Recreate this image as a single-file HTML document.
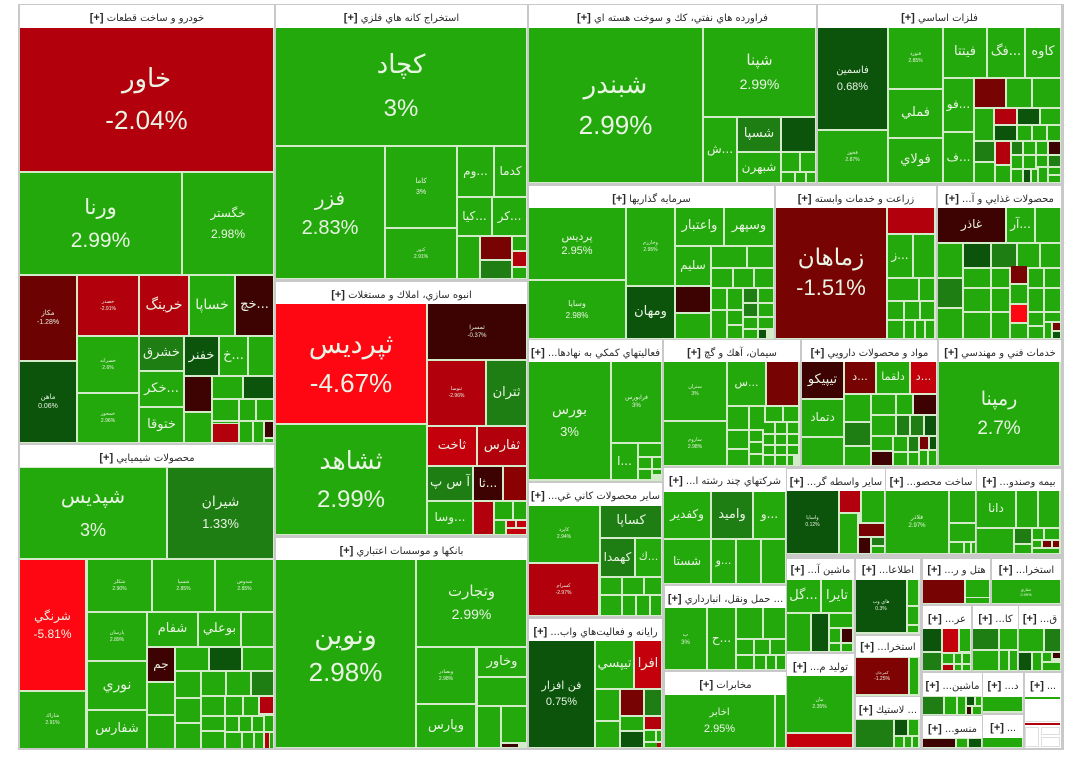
<!DOCTYPE html>
<html><head><meta charset="utf-8">
<style>
html,body{margin:0;padding:0;background:#fff;width:1080px;height:771px;overflow:hidden}
#w{position:absolute;left:18px;top:4px;width:1046px;height:746px;background:#c9c9c9}
.h{position:absolute;background:#fff;color:#2a2a2a;font:10px "DejaVu Sans","Liberation Sans",sans-serif;direction:rtl;text-align:center;white-space:nowrap;overflow:hidden;box-sizing:border-box;padding-top:6px;line-height:14px;letter-spacing:-0.2px}
.h b{font-family:"Liberation Sans",sans-serif;font-size:11px;letter-spacing:0}
.s{position:absolute;background:#d3ebc8}
.c{position:absolute;display:flex;flex-direction:column;align-items:center;justify-content:center;color:#e9f4e4;overflow:hidden;text-align:center;white-space:nowrap;font-family:"DejaVu Sans","Liberation Sans",sans-serif;font-size:13px;line-height:1.3}
.c span{display:block}
.p{font-family:"Liberation Sans",sans-serif}
.g{background:#24a90c}.m{background:#1e7d13}.d{background:#0c540c}.r{background:#b2000c}.b{background:#fe0713}.k{background:#770303}.v{background:#3d0202}.x{background:#c5000d}
.t{font-size:5px;line-height:7px}
</style></head><body>
<div id="w"></div>

<!-- S1 خودرو -->
<div class="h" style="left:20px;top:5px;width:254px;height:23px">خودرو و ساخت قطعات <b>[+]</b></div>
<div class="s" style="left:20px;top:28px;width:254px;height:415px"></div>
<div class="c r" style="left:20px;top:28px;width:253px;height:143px"><span style="font-size:26px;line-height:41px">خاور</span><span class="p" style="font-size:26px;line-height:41px">-2.04%</span></div>
<div class="c g" style="left:20px;top:173px;width:161px;height:101px"><span style="font-size:21px;line-height:33px">ورنا</span><span class="p" style="font-size:21px;line-height:33px">2.99%</span></div>
<div class="c g" style="left:183px;top:173px;width:90px;height:101px"><span style="font-size:12px;line-height:21px">خگستر</span><span class="p" style="font-size:12px;line-height:21px">2.98%</span></div>
<div class="c" style="left:20px;top:276px;width:56px;height:84px;background:#6c0202"><span class="t" style="font-size:7px;line-height:9px">مكاز</span><span class="p" style="font-size:7px;line-height:9px">-1.28%</span></div>
<div class="c d" style="left:20px;top:362px;width:56px;height:80px"><span style="font-size:7px;line-height:9px">ماهن</span><span class="p" style="font-size:7px;line-height:9px">0.06%</span></div>
<div class="c r" style="left:78px;top:276px;width:60px;height:59px"><span class="t">خصدر</span><span class="p t">-2.91%</span></div>
<div class="c g" style="left:78px;top:337px;width:60px;height:55px"><span class="t">خسرانه</span><span class="p t">2.6%</span></div>
<div class="c g" style="left:78px;top:394px;width:60px;height:48px"><span class="t">خمحور</span><span class="p t">2.96%</span></div>
<div class="c r" style="left:140px;top:276px;width:48px;height:59px"><span style="font-size:14px">خرينگ</span></div>
<div class="c g" style="left:190px;top:276px;width:44px;height:59px"><span style="font-size:14px">خساپا</span></div>
<div class="c v" style="left:236px;top:276px;width:37px;height:59px"><span style="font-size:13px">خچ...</span></div>
<div class="c m" style="left:140px;top:337px;width:43px;height:33px"><span style="font-size:13px">خشرق</span></div>
<div class="c g" style="left:140px;top:372px;width:43px;height:34px"><span style="font-size:13px">خكر...</span></div>
<div class="c g" style="left:140px;top:408px;width:43px;height:34px"><span style="font-size:13px">ختوقا</span></div>
<div class="c d" style="left:185px;top:337px;width:33px;height:38px"><span style="font-size:13px">خفنر</span></div>
<div class="c g" style="left:220px;top:337px;width:27px;height:38px"><span style="font-size:13px">خ...</span></div>
<div class="c g" style="left:249px;top:337px;width:24px;height:38px"></div>
<div class="c v" style="left:185px;top:377px;width:26px;height:34px"></div>
<div class="c g" style="left:185px;top:413px;width:26px;height:29px"></div>
<div class="c g" style="left:213px;top:377px;width:29px;height:21px"></div>
<div class="c d" style="left:244px;top:377px;width:29px;height:21px"></div>
<div class="c g" style="left:213px;top:400px;width:25px;height:20px"></div>
<div class="c g" style="left:240px;top:400px;width:15px;height:20px"></div>
<div class="c g" style="left:257px;top:400px;width:16px;height:20px"></div>
<div class="c r" style="left:213px;top:424px;width:25px;height:18px"></div>
<div class="c g" style="left:213px;top:422px;width:25px;height:1px"></div>
<div class="c g" style="left:240px;top:422px;width:12px;height:20px"></div>
<div class="c g" style="left:254px;top:422px;width:9px;height:20px"></div>
<div class="c v" style="left:265px;top:422px;width:8px;height:15px"></div>
<div class="c g" style="left:265px;top:439px;width:8px;height:3px"></div>

<!-- S2 شیمیایی -->
<div class="h" style="left:20px;top:445px;width:254px;height:22px">محصولات شيميايي <b>[+]</b></div>
<div class="s" style="left:20px;top:467px;width:254px;height:281px"></div>
<div class="c g" style="left:20px;top:468px;width:146px;height:90px"><span style="font-size:20px;line-height:34px">شپديس</span><span class="p" style="font-size:18px;line-height:34px">3%</span></div>
<div class="c m" style="left:168px;top:468px;width:105px;height:90px"><span style="font-size:14px;line-height:21px">شيران</span><span class="p" style="font-size:13px;line-height:21px">1.33%</span></div>
<div class="c b" style="left:20px;top:560px;width:65px;height:130px"><span style="font-size:12px;line-height:18px">شرنگي</span><span class="p" style="font-size:12px;line-height:18px">-5.81%</span></div>
<div class="c g" style="left:20px;top:692px;width:65px;height:56px"><span class="t">شاراك</span><span class="p t">2.91%</span></div>
<div class="c g" style="left:88px;top:560px;width:63px;height:51px"><span class="t">شكلر</span><span class="p t">2.90%</span></div>
<div class="c g" style="left:153px;top:560px;width:61px;height:51px"><span class="t">شسپا</span><span class="p t">2.85%</span></div>
<div class="c g" style="left:216px;top:560px;width:57px;height:51px"><span class="t">شدوص</span><span class="p t">2.85%</span></div>
<div class="c g" style="left:88px;top:613px;width:58px;height:47px"><span class="t">پارسان</span><span class="p t">2.89%</span></div>
<div class="c g" style="left:88px;top:662px;width:58px;height:47px"><span style="font-size:14px">نوري</span></div>
<div class="c g" style="left:88px;top:711px;width:58px;height:37px"><span style="font-size:13px">شفارس</span></div>
<div class="c g" style="left:148px;top:613px;width:49px;height:33px"><span style="font-size:13px">شفام</span></div>
<div class="c g" style="left:199px;top:613px;width:41px;height:33px"><span style="font-size:13px">بوعلي</span></div>
<div class="c g" style="left:242px;top:613px;width:31px;height:33px"></div>
<div class="c v" style="left:148px;top:648px;width:26px;height:33px"><span style="font-size:12px">جم</span></div>
<div class="c g" style="left:148px;top:683px;width:26px;height:31px"></div>
<div class="c g" style="left:148px;top:716px;width:26px;height:32px"></div>
<div class="c g" style="left:176px;top:648px;width:32px;height:22px"></div>
<div class="c d" style="left:210px;top:648px;width:31px;height:22px"></div>
<div class="c g" style="left:243px;top:648px;width:30px;height:22px"></div>
<div class="c g" style="left:176px;top:672px;width:24px;height:25px"></div>
<div class="c g" style="left:202px;top:672px;width:23px;height:23px"></div>
<div class="c g" style="left:227px;top:672px;width:23px;height:23px"></div>
<div class="c m" style="left:252px;top:672px;width:21px;height:23px"></div>
<div class="c g" style="left:176px;top:699px;width:24px;height:23px"></div>
<div class="c g" style="left:176px;top:724px;width:24px;height:24px"></div>
<div class="c g" style="left:202px;top:697px;width:22px;height:18px"></div>
<div class="c g" style="left:226px;top:697px;width:16px;height:18px"></div>
<div class="c g" style="left:244px;top:697px;width:14px;height:18px"></div>
<div class="c r" style="left:260px;top:697px;width:13px;height:16px"></div>
<div class="c g" style="left:202px;top:717px;width:22px;height:13px"></div>
<div class="c g" style="left:202px;top:732px;width:22px;height:16px"></div>
<div class="c g" style="left:226px;top:717px;width:12px;height:14px"></div>
<div class="c g" style="left:240px;top:717px;width:11px;height:14px"></div>
<div class="c g" style="left:253px;top:717px;width:10px;height:14px"></div>
<div class="c g" style="left:265px;top:716px;width:8px;height:15px"></div>
<div class="c g" style="left:226px;top:733px;width:15px;height:15px"></div>
<div class="c g" style="left:243px;top:733px;width:10px;height:15px"></div>
<div class="c g" style="left:255px;top:733px;width:8px;height:15px"></div>
<div class="c r" style="left:265px;top:733px;width:4px;height:15px"></div>
<div class="c g" style="left:270px;top:733px;width:3px;height:15px"></div>

<!-- S3 استخراج کانه -->
<div class="h" style="left:276px;top:5px;width:251px;height:23px">استخراج كانه هاي فلزي <b>[+]</b></div>
<div class="s" style="left:276px;top:28px;width:251px;height:251px"></div>
<div class="c g" style="left:276px;top:28px;width:250px;height:117px"><span style="font-size:26px;line-height:44px">كچاد</span><span class="p" style="font-size:24px;line-height:44px">3%</span></div>
<div class="c g" style="left:276px;top:147px;width:108px;height:131px"><span style="font-size:20px;line-height:30px">فزر</span><span class="p" style="font-size:20px;line-height:30px">2.83%</span></div>
<div class="c g" style="left:386px;top:147px;width:70px;height:80px"><span style="font-size:7px;line-height:12px">كاما</span><span class="p" style="font-size:7px;line-height:12px">3%</span></div>
<div class="c g" style="left:386px;top:229px;width:70px;height:49px"><span class="t">كنور</span><span class="p t">2.91%</span></div>
<div class="c g" style="left:458px;top:147px;width:35px;height:49px"><span style="font-size:12px">وم...</span></div>
<div class="c g" style="left:495px;top:147px;width:31px;height:49px"><span style="font-size:12px">كدما</span></div>
<div class="c g" style="left:458px;top:198px;width:33px;height:37px"><span style="font-size:12px">كيا...</span></div>
<div class="c g" style="left:493px;top:198px;width:33px;height:37px"><span style="font-size:12px">كر...</span></div>
<div class="c g" style="left:458px;top:237px;width:21px;height:41px"></div>
<div class="c k" style="left:481px;top:237px;width:30px;height:22px"></div>
<div class="c m" style="left:481px;top:261px;width:30px;height:17px"></div>
<div class="c g" style="left:513px;top:237px;width:13px;height:13px"></div>
<div class="c r" style="left:513px;top:252px;width:13px;height:14px"></div>
<div class="c g" style="left:513px;top:268px;width:13px;height:10px"></div>

<!-- S4 انبوه سازی -->
<div class="h" style="left:276px;top:282px;width:251px;height:22px">انبوه سازي، املاك و مستغلات <b>[+]</b></div>
<div class="s" style="left:276px;top:304px;width:251px;height:231px"></div>
<div class="c b" style="left:276px;top:304px;width:150px;height:119px"><span style="font-size:27px;line-height:38px">ثپرديس</span><span class="p" style="font-size:26px;line-height:38px">-4.67%</span></div>
<div class="c g" style="left:276px;top:425px;width:150px;height:109px"><span style="font-size:25px;line-height:39px">ثشاهد</span><span class="p" style="font-size:24px;line-height:39px">2.99%</span></div>
<div class="c v" style="left:428px;top:304px;width:98px;height:55px"><span style="font-size:6px;line-height:9px">ثمسرا</span><span class="p" style="font-size:6px;line-height:9px">-0.37%</span></div>
<div class="c r" style="left:428px;top:361px;width:57px;height:64px"><span class="t">ثنوسا</span><span class="p t">-2.96%</span></div>
<div class="c m" style="left:487px;top:361px;width:39px;height:64px"><span style="font-size:13px">ثتران</span></div>
<div class="c x" style="left:428px;top:427px;width:48px;height:38px"><span style="font-size:13px">ثاخت</span></div>
<div class="c r" style="left:478px;top:427px;width:48px;height:38px"><span style="font-size:13px">ثفارس</span></div>
<div class="c m" style="left:428px;top:467px;width:44px;height:33px"><span style="font-size:13px">آ س پ</span></div>
<div class="c v" style="left:474px;top:467px;width:28px;height:33px"><span style="font-size:12px">ثا...</span></div>
<div class="c" style="left:504px;top:467px;width:22px;height:33px;background:#8b0000"></div>
<div class="c g" style="left:428px;top:502px;width:44px;height:32px"><span style="font-size:12px">وسا...</span></div>
<div class="c r" style="left:474px;top:502px;width:19px;height:32px"></div>
<div class="c g" style="left:495px;top:502px;width:17px;height:17px"></div>
<div class="c g" style="left:514px;top:502px;width:12px;height:17px"></div>
<div class="c g" style="left:495px;top:521px;width:10px;height:13px"></div>
<div class="c x" style="left:507px;top:521px;width:8px;height:6px"></div>
<div class="c x" style="left:517px;top:521px;width:9px;height:6px"></div>
<div class="c x" style="left:507px;top:529px;width:19px;height:5px"></div>

<!-- S5 بانکها -->
<div class="h" style="left:276px;top:538px;width:251px;height:22px">بانكها و موسسات اعتباري <b>[+]</b></div>
<div class="s" style="left:276px;top:560px;width:251px;height:188px"></div>
<div class="c g" style="left:276px;top:560px;width:139px;height:187px"><span style="font-size:27px;line-height:36px">ونوين</span><span class="p" style="font-size:26px;line-height:36px">2.98%</span></div>
<div class="c g" style="left:417px;top:560px;width:109px;height:86px"><span style="font-size:15px;line-height:23px">وتجارت</span><span class="p" style="font-size:14px;line-height:23px">2.99%</span></div>
<div class="c g" style="left:417px;top:648px;width:58px;height:55px"><span class="t">وبصادر</span><span class="p t">2.98%</span></div>
<div class="c g" style="left:417px;top:705px;width:58px;height:42px"><span style="font-size:13px">وپارس</span></div>
<div class="c g" style="left:478px;top:648px;width:48px;height:28px"><span style="font-size:13px">وخاور</span></div>
<div class="c g" style="left:478px;top:678px;width:48px;height:27px"></div>
<div class="c g" style="left:478px;top:707px;width:22px;height:40px"></div>
<div class="c g" style="left:502px;top:707px;width:24px;height:35px"></div>
<div class="c v" style="left:502px;top:744px;width:16px;height:3px"></div>

<!-- S6 فراورده -->
<div class="h" style="left:529px;top:5px;width:287px;height:23px">فراورده هاي نفتي، كك و سوخت هسته اي <b>[+]</b></div>
<div class="s" style="left:529px;top:28px;width:287px;height:155px"></div>
<div class="c g" style="left:529px;top:28px;width:173px;height:154px"><span style="font-size:26px;line-height:40px">شبندر</span><span class="p" style="font-size:26px;line-height:40px">2.99%</span></div>
<div class="c g" style="left:704px;top:28px;width:111px;height:88px"><span style="font-size:15px;line-height:24px">شپنا</span><span class="p" style="font-size:14px;line-height:24px">2.99%</span></div>
<div class="c g" style="left:704px;top:118px;width:32px;height:64px"><span style="font-size:12px">ش...</span></div>
<div class="c m" style="left:738px;top:118px;width:42px;height:33px"><span style="font-size:13px">شسپا</span></div>
<div class="c g" style="left:738px;top:153px;width:42px;height:29px"><span style="font-size:12px">شبهرن</span></div>
<div class="c d" style="left:782px;top:118px;width:33px;height:33px"></div>
<div class="c g" style="left:782px;top:153px;width:17px;height:18px"></div>
<div class="c g" style="left:801px;top:153px;width:14px;height:18px"></div>
<div class="c g" style="left:782px;top:173px;width:12px;height:9px"></div>
<div class="c g" style="left:796px;top:173px;width:9px;height:9px"></div>
<div class="c g" style="left:807px;top:173px;width:8px;height:9px"></div>

<!-- S7 سرمایه -->
<div class="h" style="left:529px;top:186px;width:245px;height:22px">سرمايه گذاريها <b>[+]</b></div>
<div class="s" style="left:529px;top:208px;width:245px;height:131px"></div>
<div class="c g" style="left:529px;top:208px;width:96px;height:71px"><span style="font-size:11px;line-height:15px">پرديس</span><span class="p" style="font-size:11px;line-height:15px">2.95%</span></div>
<div class="c g" style="left:529px;top:281px;width:96px;height:57px"><span style="font-size:8px;line-height:12px">وسايا</span><span class="p" style="font-size:8px;line-height:12px">2.98%</span></div>
<div class="c g" style="left:627px;top:208px;width:47px;height:77px"><span class="t">وخارزم</span><span class="p t">2.95%</span></div>
<div class="c d" style="left:627px;top:287px;width:47px;height:51px"><span style="font-size:13px">ومهان</span></div>
<div class="c g" style="left:676px;top:208px;width:47px;height:37px"><span style="font-size:13px">واعتبار</span></div>
<div class="c g" style="left:725px;top:208px;width:48px;height:37px"><span style="font-size:13px">وسپهر</span></div>
<div class="c g" style="left:676px;top:247px;width:34px;height:38px"><span style="font-size:12px">سليم</span></div>
<div class="c v" style="left:676px;top:287px;width:34px;height:25px"></div>
<div class="c g" style="left:676px;top:314px;width:34px;height:24px"></div>
<div class="c g" style="left:712px;top:247px;width:34px;height:20px"></div>
<div class="c g" style="left:748px;top:247px;width:25px;height:20px"></div>
<div class="c g" style="left:712px;top:269px;width:20px;height:18px"></div>
<div class="c g" style="left:734px;top:269px;width:19px;height:18px"></div>
<div class="c g" style="left:755px;top:269px;width:18px;height:18px"></div>
<div class="c g" style="left:712px;top:289px;width:14px;height:20px"></div>
<div class="c g" style="left:728px;top:289px;width:14px;height:20px"></div>
<div class="c m" style="left:744px;top:289px;width:13px;height:13px"></div>
<div class="c g" style="left:759px;top:289px;width:14px;height:13px"></div>
<div class="c m" style="left:744px;top:304px;width:13px;height:12px"></div>
<div class="c g" style="left:759px;top:304px;width:14px;height:12px"></div>
<div class="c g" style="left:712px;top:311px;width:14px;height:27px"></div>
<div class="c g" style="left:728px;top:311px;width:14px;height:13px"></div>
<div class="c g" style="left:728px;top:326px;width:14px;height:12px"></div>
<div class="c g" style="left:744px;top:318px;width:13px;height:10px"></div>
<div class="c g" style="left:759px;top:318px;width:14px;height:10px"></div>
<div class="c g" style="left:744px;top:330px;width:13px;height:8px"></div>
<div class="c d" style="left:759px;top:330px;width:7px;height:8px"></div>

<!-- S8 زراعت -->
<div class="h" style="left:776px;top:186px;width:160px;height:22px">زراعت و خدمات وابسته <b>[+]</b></div>
<div class="s" style="left:776px;top:208px;width:160px;height:131px"></div>
<div class="c k" style="left:776px;top:208px;width:110px;height:130px"><span style="font-size:23px;line-height:30px">زماهان</span><span class="p" style="font-size:22px;line-height:30px">-1.51%</span></div>
<div class="c r" style="left:888px;top:208px;width:46px;height:25px"></div>
<div class="c g" style="left:888px;top:235px;width:24px;height:42px"><span style="font-size:12px">ز...</span></div>
<div class="c g" style="left:914px;top:235px;width:20px;height:42px"></div>
<div class="c g" style="left:888px;top:279px;width:30px;height:21px"></div>
<div class="c g" style="left:920px;top:279px;width:14px;height:21px"></div>
<div class="c g" style="left:888px;top:302px;width:15px;height:17px"></div>
<div class="c g" style="left:905px;top:302px;width:14px;height:17px"></div>
<div class="c g" style="left:921px;top:302px;width:13px;height:17px"></div>
<div class="c g" style="left:888px;top:321px;width:15px;height:17px"></div>
<div class="c g" style="left:905px;top:321px;width:9px;height:17px"></div>
<div class="c g" style="left:916px;top:321px;width:8px;height:17px"></div>
<div class="c g" style="left:926px;top:321px;width:8px;height:17px"></div>

<!-- S9 فلزات -->
<div class="h" style="left:818px;top:5px;width:243px;height:23px">فلزات اساسي <b>[+]</b></div>
<div class="s" style="left:818px;top:28px;width:243px;height:155px"></div>
<div class="c d" style="left:818px;top:28px;width:69px;height:101px"><span style="font-size:10px;line-height:16px">فاسمين</span><span class="p" style="font-size:11px;line-height:16px">0.68%</span></div>
<div class="c g" style="left:818px;top:131px;width:69px;height:51px"><span class="t">فخوز</span><span class="p t">2.87%</span></div>
<div class="c g" style="left:889px;top:28px;width:53px;height:60px"><span class="t">فنورد</span><span class="p t">2.85%</span></div>
<div class="c g" style="left:889px;top:90px;width:53px;height:47px"><span style="font-size:13px">فملي</span></div>
<div class="c g" style="left:889px;top:139px;width:53px;height:43px"><span style="font-size:13px">فولاي</span></div>
<div class="c g" style="left:944px;top:28px;width:42px;height:49px"><span style="font-size:13px">فيتتا</span></div>
<div class="c g" style="left:988px;top:28px;width:36px;height:49px"><span style="font-size:13px">فگ...</span></div>
<div class="c g" style="left:1026px;top:28px;width:34px;height:49px"><span style="font-size:13px">كاوه</span></div>
<div class="c g" style="left:944px;top:79px;width:29px;height:52px"><span style="font-size:12px">فو...</span></div>
<div class="c g" style="left:944px;top:133px;width:29px;height:49px"><span style="font-size:12px">ف...</span></div>
<div class="c k" style="left:975px;top:79px;width:30px;height:28px"></div>
<div class="c g" style="left:1007px;top:79px;width:24px;height:28px"></div>
<div class="c g" style="left:1033px;top:79px;width:27px;height:28px"></div>
<div class="c g" style="left:975px;top:109px;width:18px;height:31px"></div>
<div class="c r" style="left:995px;top:109px;width:21px;height:15px"></div>
<div class="c d" style="left:1018px;top:109px;width:21px;height:15px"></div>
<div class="c g" style="left:1041px;top:109px;width:19px;height:15px"></div>
<div class="c d" style="left:995px;top:126px;width:21px;height:14px"></div>
<div class="c g" style="left:1018px;top:126px;width:13px;height:14px"></div>
<div class="c g" style="left:1033px;top:126px;width:13px;height:14px"></div>
<div class="c g" style="left:1048px;top:126px;width:12px;height:14px"></div>
<div class="c m" style="left:975px;top:142px;width:19px;height:19px"></div>
<div class="c r" style="left:996px;top:142px;width:14px;height:22px"></div>
<div class="c m" style="left:1012px;top:142px;width:10px;height:12px"></div>
<div class="c g" style="left:1024px;top:142px;width:11px;height:12px"></div>
<div class="c g" style="left:1037px;top:142px;width:10px;height:12px"></div>
<div class="c v" style="left:1049px;top:142px;width:11px;height:12px"></div>
<div class="c g" style="left:975px;top:163px;width:19px;height:19px"></div>
<div class="c g" style="left:996px;top:166px;width:14px;height:16px"></div>
<div class="c g" style="left:1012px;top:156px;width:10px;height:12px"></div>
<div class="c g" style="left:1024px;top:156px;width:11px;height:12px"></div>
<div class="c g" style="left:1037px;top:156px;width:10px;height:10px"></div>
<div class="c m" style="left:1049px;top:156px;width:11px;height:10px"></div>
<div class="c g" style="left:1012px;top:170px;width:10px;height:12px"></div>
<div class="c d" style="left:1024px;top:170px;width:6px;height:12px"></div>
<div class="c g" style="left:1032px;top:170px;width:5px;height:12px"></div>
<div class="c g" style="left:1039px;top:168px;width:8px;height:14px"></div>
<div class="c g" style="left:1049px;top:168px;width:11px;height:6px"></div>
<div class="c g" style="left:1049px;top:176px;width:11px;height:6px"></div>

<!-- S10 غذایی -->
<div class="h" style="left:938px;top:186px;width:123px;height:22px">محصولات غذايي و آ... <b>[+]</b></div>
<div class="s" style="left:938px;top:208px;width:123px;height:131px"></div>
<div class="c v" style="left:938px;top:208px;width:67px;height:34px"><span style="font-size:12px">غاذر</span></div>
<div class="c g" style="left:1007px;top:208px;width:27px;height:34px"><span style="font-size:12px">آر...</span></div>
<div class="c g" style="left:1036px;top:208px;width:24px;height:34px"></div>
<div class="c g" style="left:938px;top:244px;width:24px;height:33px"></div>
<div class="c d" style="left:964px;top:244px;width:26px;height:23px"></div>
<div class="c m" style="left:992px;top:244px;width:24px;height:23px"></div>
<div class="c g" style="left:1018px;top:244px;width:21px;height:23px"></div>
<div class="c g" style="left:1041px;top:244px;width:19px;height:23px"></div>
<div class="c m" style="left:938px;top:279px;width:24px;height:28px"></div>
<div class="c g" style="left:938px;top:309px;width:24px;height:29px"></div>
<div class="c g" style="left:964px;top:269px;width:26px;height:18px"></div>
<div class="c g" style="left:992px;top:269px;width:17px;height:18px"></div>
<div class="c k" style="left:1011px;top:266px;width:16px;height:17px"></div>
<div class="c g" style="left:1029px;top:269px;width:14px;height:18px"></div>
<div class="c g" style="left:1045px;top:269px;width:15px;height:18px"></div>
<div class="c g" style="left:964px;top:289px;width:26px;height:22px"></div>
<div class="c g" style="left:992px;top:289px;width:17px;height:22px"></div>
<div class="c g" style="left:1011px;top:285px;width:16px;height:18px"></div>
<div class="c g" style="left:1029px;top:289px;width:14px;height:22px"></div>
<div class="c g" style="left:1045px;top:289px;width:15px;height:22px"></div>
<div class="c g" style="left:964px;top:313px;width:26px;height:25px"></div>
<div class="c g" style="left:992px;top:313px;width:17px;height:25px"></div>
<div class="c b" style="left:1011px;top:305px;width:16px;height:17px"></div>
<div class="c g" style="left:1011px;top:324px;width:16px;height:14px"></div>
<div class="c g" style="left:1029px;top:313px;width:14px;height:12px"></div>
<div class="c g" style="left:1045px;top:313px;width:15px;height:8px"></div>
<div class="c g" style="left:1029px;top:327px;width:14px;height:11px"></div>
<div class="c g" style="left:1045px;top:323px;width:6px;height:15px"></div>
<div class="c k" style="left:1053px;top:323px;width:7px;height:7px"></div>
<div class="c d" style="left:1053px;top:332px;width:7px;height:6px"></div>

<!-- S11 فعالیتهای کمکی -->
<div class="h" style="left:529px;top:340px;width:133px;height:22px">فعاليتهاي كمكي به نهادها... <b>[+]</b></div>
<div class="s" style="left:529px;top:362px;width:133px;height:119px"></div>
<div class="c g" style="left:529px;top:362px;width:81px;height:117px"><span style="font-size:14px;line-height:21px">بورس</span><span class="p" style="font-size:13px;line-height:21px">3%</span></div>
<div class="c g" style="left:612px;top:362px;width:49px;height:80px"><span style="font-size:6px;line-height:9px">فرابورس</span><span class="p" style="font-size:6px;line-height:9px">3%</span></div>
<div class="c g" style="left:612px;top:444px;width:25px;height:35px"><span style="font-size:12px">ا...</span></div>
<div class="c g" style="left:639px;top:444px;width:22px;height:12px"></div>
<div class="c g" style="left:639px;top:458px;width:12px;height:10px"></div>
<div class="c g" style="left:653px;top:458px;width:8px;height:10px"></div>
<div class="c g" style="left:639px;top:470px;width:12px;height:9px"></div>
<div class="c g" style="left:653px;top:470px;width:8px;height:4px"></div>

<!-- S12 سیمان -->
<div class="h" style="left:664px;top:340px;width:136px;height:22px">سيمان، آهك و گچ <b>[+]</b></div>
<div class="s" style="left:664px;top:362px;width:136px;height:104px"></div>
<div class="c g" style="left:664px;top:362px;width:62px;height:58px"><span class="t">ستران</span><span class="p t">3%</span></div>
<div class="c g" style="left:664px;top:422px;width:62px;height:43px"><span class="t">ساروم</span><span class="p t">2.98%</span></div>
<div class="c g" style="left:728px;top:362px;width:37px;height:43px"><span style="font-size:11px">س...</span></div>
<div class="c k" style="left:767px;top:362px;width:31px;height:43px"></div>
<div class="c g" style="left:728px;top:407px;width:20px;height:22px"></div>
<div class="c g" style="left:750px;top:407px;width:14px;height:22px"></div>
<div class="c g" style="left:766px;top:407px;width:16px;height:14px"></div>
<div class="c g" style="left:784px;top:407px;width:14px;height:14px"></div>
<div class="c g" style="left:728px;top:431px;width:20px;height:17px"></div>
<div class="c g" style="left:728px;top:450px;width:20px;height:15px"></div>
<div class="c g" style="left:750px;top:431px;width:12px;height:10px"></div>
<div class="c g" style="left:764px;top:423px;width:10px;height:10px"></div>
<div class="c g" style="left:776px;top:423px;width:10px;height:10px"></div>
<div class="c g" style="left:788px;top:423px;width:10px;height:10px"></div>
<div class="c g" style="left:750px;top:443px;width:12px;height:10px"></div>
<div class="c g" style="left:750px;top:455px;width:12px;height:10px"></div>
<div class="c g" style="left:764px;top:435px;width:10px;height:9px"></div>
<div class="c g" style="left:776px;top:435px;width:10px;height:9px"></div>
<div class="c g" style="left:788px;top:435px;width:10px;height:9px"></div>
<div class="c g" style="left:764px;top:446px;width:10px;height:8px"></div>
<div class="c g" style="left:776px;top:446px;width:10px;height:8px"></div>
<div class="c g" style="left:788px;top:446px;width:10px;height:8px"></div>
<div class="c g" style="left:764px;top:456px;width:10px;height:9px"></div>
<div class="c g" style="left:776px;top:456px;width:10px;height:9px"></div>
<div class="c g" style="left:788px;top:456px;width:5px;height:9px"></div>

<!-- S13 چند رشته -->
<div class="h" style="left:664px;top:468px;width:122px;height:24px">شركتهاي چند رشته ا... <b>[+]</b></div>
<div class="s" style="left:664px;top:492px;width:122px;height:92px"></div>
<div class="c g" style="left:664px;top:492px;width:46px;height:46px"><span style="font-size:12px">وكفدير</span></div>
<div class="c m" style="left:712px;top:492px;width:40px;height:46px"><span style="font-size:13px">واميد</span></div>
<div class="c g" style="left:754px;top:492px;width:31px;height:46px"><span style="font-size:12px">و...</span></div>
<div class="c g" style="left:664px;top:540px;width:46px;height:43px"><span style="font-size:12px">شستا</span></div>
<div class="c g" style="left:712px;top:540px;width:23px;height:43px"><span style="font-size:11px">و...</span></div>
<div class="c g" style="left:737px;top:540px;width:23px;height:43px"></div>
<div class="c g" style="left:762px;top:540px;width:23px;height:43px"></div>

<!-- S14 کانی -->
<div class="h" style="left:529px;top:483px;width:133px;height:23px">ساير محصولات كاني غي... <b>[+]</b></div>
<div class="s" style="left:529px;top:506px;width:133px;height:110px"></div>
<div class="c g" style="left:529px;top:506px;width:70px;height:56px"><span class="t">كاپرد</span><span class="p t">2.94%</span></div>
<div class="c r" style="left:529px;top:564px;width:69px;height:51px"><span class="t">كسرام</span><span class="p t">-2.97%</span></div>
<div class="c m" style="left:601px;top:506px;width:60px;height:31px"><span style="font-size:13px">كساپا</span></div>
<div class="c m" style="left:601px;top:539px;width:33px;height:37px"><span style="font-size:12px">كهمدا</span></div>
<div class="c g" style="left:636px;top:539px;width:25px;height:37px"><span style="font-size:11px">ك...</span></div>
<div class="c g" style="left:601px;top:578px;width:20px;height:16px"></div>
<div class="c g" style="left:623px;top:578px;width:20px;height:16px"></div>
<div class="c g" style="left:645px;top:578px;width:16px;height:16px"></div>
<div class="c g" style="left:601px;top:596px;width:20px;height:19px"></div>
<div class="c g" style="left:623px;top:596px;width:12px;height:19px"></div>
<div class="c g" style="left:637px;top:596px;width:12px;height:19px"></div>
<div class="c g" style="left:651px;top:596px;width:10px;height:19px"></div>

<!-- S15 رایانه -->
<div class="h" style="left:529px;top:619px;width:133px;height:22px">رايانه و فعاليت‌هاي واب... <b>[+]</b></div>
<div class="s" style="left:529px;top:641px;width:133px;height:107px"></div>
<div class="c d" style="left:529px;top:641px;width:65px;height:106px"><span style="font-size:11px;line-height:16px">فن افزار</span><span class="p" style="font-size:11px;line-height:16px">0.75%</span></div>
<div class="c g" style="left:596px;top:641px;width:37px;height:47px"><span style="font-size:13px">تيپسي</span></div>
<div class="c x" style="left:635px;top:641px;width:26px;height:47px"><span style="font-size:13px">افرا</span></div>
<div class="c g" style="left:596px;top:690px;width:23px;height:30px"></div>
<div class="c g" style="left:596px;top:722px;width:23px;height:25px"></div>
<div class="c k" style="left:621px;top:690px;width:22px;height:25px"></div>
<div class="c m" style="left:645px;top:690px;width:16px;height:25px"></div>
<div class="c g" style="left:621px;top:717px;width:22px;height:13px"></div>
<div class="c r" style="left:645px;top:717px;width:16px;height:12px"></div>
<div class="c d" style="left:621px;top:732px;width:22px;height:15px"></div>
<div class="c g" style="left:645px;top:731px;width:10px;height:10px"></div>
<div class="c g" style="left:657px;top:731px;width:4px;height:10px"></div>
<div class="c g" style="left:645px;top:743px;width:12px;height:4px"></div>
<div class="c r" style="left:657px;top:743px;width:4px;height:4px"></div>

<!-- S16 حمل -->
<div class="h" style="left:665px;top:586px;width:121px;height:22px">... حمل ونقل، انبارداري <b>[+]</b></div>
<div class="s" style="left:665px;top:608px;width:121px;height:62px"></div>
<div class="c g" style="left:665px;top:608px;width:41px;height:61px"><span style="font-size:6px;line-height:9px">ب</span><span class="p" style="font-size:6px;line-height:9px">3%</span></div>
<div class="c g" style="left:708px;top:608px;width:27px;height:61px"><span style="font-size:12px">ح...</span></div>
<div class="c g" style="left:737px;top:608px;width:25px;height:30px"></div>
<div class="c g" style="left:764px;top:608px;width:21px;height:30px"></div>
<div class="c g" style="left:737px;top:640px;width:16px;height:14px"></div>
<div class="c g" style="left:755px;top:640px;width:14px;height:14px"></div>
<div class="c g" style="left:771px;top:640px;width:14px;height:14px"></div>
<div class="c g" style="left:737px;top:656px;width:16px;height:13px"></div>
<div class="c g" style="left:755px;top:656px;width:10px;height:13px"></div>
<div class="c g" style="left:767px;top:656px;width:8px;height:13px"></div>
<div class="c g" style="left:777px;top:656px;width:8px;height:13px"></div>

<!-- S17 مخابرات -->
<div class="h" style="left:665px;top:672px;width:121px;height:23px">مخابرات <b>[+]</b></div>
<div class="s" style="left:665px;top:695px;width:121px;height:53px"></div>
<div class="c g" style="left:665px;top:695px;width:109px;height:52px"><span style="font-size:10px;line-height:16px">اخابر</span><span class="p" style="font-size:11px;line-height:16px">2.95%</span></div>
<div class="c g" style="left:776px;top:695px;width:9px;height:52px"></div>

<!-- S18 دارویی -->
<div class="h" style="left:802px;top:340px;width:135px;height:22px">مواد و محصولات دارويي <b>[+]</b></div>
<div class="s" style="left:802px;top:362px;width:135px;height:104px"></div>
<div class="c v" style="left:802px;top:362px;width:41px;height:36px"><span style="font-size:13px">تيپيكو</span></div>
<div class="c k" style="left:845px;top:362px;width:30px;height:31px"><span style="font-size:11px">د...</span></div>
<div class="c g" style="left:877px;top:362px;width:32px;height:31px"><span style="font-size:11px">دلقما</span></div>
<div class="c x" style="left:911px;top:362px;width:25px;height:31px"><span style="font-size:11px">د...</span></div>
<div class="c g" style="left:802px;top:400px;width:41px;height:36px"><span style="font-size:12px">دتماد</span></div>
<div class="c g" style="left:802px;top:438px;width:41px;height:27px"></div>
<div class="c g" style="left:845px;top:395px;width:25px;height:26px"></div>
<div class="c m" style="left:845px;top:423px;width:25px;height:22px"></div>
<div class="c g" style="left:845px;top:447px;width:25px;height:18px"></div>
<div class="c g" style="left:872px;top:395px;width:23px;height:19px"></div>
<div class="c g" style="left:897px;top:395px;width:15px;height:19px"></div>
<div class="c v" style="left:914px;top:395px;width:22px;height:19px"></div>
<div class="c g" style="left:872px;top:416px;width:23px;height:19px"></div>
<div class="c m" style="left:897px;top:416px;width:12px;height:19px"></div>
<div class="c m" style="left:911px;top:416px;width:12px;height:19px"></div>
<div class="c d" style="left:925px;top:416px;width:11px;height:19px"></div>
<div class="c g" style="left:872px;top:437px;width:20px;height:13px"></div>
<div class="c v" style="left:872px;top:452px;width:20px;height:13px"></div>
<div class="c g" style="left:894px;top:437px;width:13px;height:14px"></div>
<div class="c m" style="left:909px;top:437px;width:9px;height:14px"></div>
<div class="c k" style="left:920px;top:437px;width:8px;height:12px"></div>
<div class="c d" style="left:930px;top:437px;width:6px;height:12px"></div>
<div class="c g" style="left:894px;top:453px;width:13px;height:12px"></div>
<div class="c g" style="left:909px;top:453px;width:9px;height:12px"></div>
<div class="c g" style="left:920px;top:451px;width:7px;height:14px"></div>
<div class="c g" style="left:929px;top:451px;width:7px;height:14px"></div>

<!-- S19 خدمات فنی -->
<div class="h" style="left:939px;top:340px;width:122px;height:22px">خدمات فني و مهندسي <b>[+]</b></div>
<div class="s" style="left:939px;top:362px;width:122px;height:104px"></div>
<div class="c g" style="left:939px;top:362px;width:120px;height:103px"><span style="font-size:19px;line-height:30px">رمپنا</span><span class="p" style="font-size:19px;line-height:30px">2.7%</span></div>

<!-- S20 واسطه -->
<div class="h" style="left:787px;top:469px;width:98px;height:22px">ساير واسطه گر... <b>[+]</b></div>
<div class="s" style="left:787px;top:491px;width:98px;height:63px"></div>
<div class="c d" style="left:787px;top:491px;width:51px;height:62px"><span class="t">واسايا</span><span class="p t">0.12%</span></div>
<div class="c r" style="left:840px;top:491px;width:20px;height:21px"></div>
<div class="c g" style="left:840px;top:514px;width:17px;height:39px"></div>
<div class="c g" style="left:862px;top:491px;width:22px;height:31px"></div>
<div class="c k" style="left:859px;top:524px;width:25px;height:12px"></div>
<div class="c v" style="left:859px;top:538px;width:11px;height:15px"></div>
<div class="c m" style="left:872px;top:538px;width:12px;height:7px"></div>
<div class="c g" style="left:872px;top:547px;width:12px;height:6px"></div>

<!-- S21 ساخت محصو -->
<div class="h" style="left:886px;top:469px;width:90px;height:22px">ساخت محصو... <b>[+]</b></div>
<div class="s" style="left:886px;top:491px;width:90px;height:63px"></div>
<div class="c g" style="left:886px;top:491px;width:62px;height:62px"><span style="font-size:6px;line-height:9px">فلاذر</span><span class="p" style="font-size:6px;line-height:9px">2.97%</span></div>
<div class="c g" style="left:950px;top:491px;width:25px;height:31px"></div>
<div class="c g" style="left:950px;top:524px;width:25px;height:17px"></div>
<div class="c g" style="left:950px;top:543px;width:13px;height:10px"></div>
<div class="c g" style="left:965px;top:543px;width:5px;height:10px"></div>
<div class="c g" style="left:972px;top:543px;width:3px;height:10px"></div>

<!-- S22 بیمه -->
<div class="h" style="left:977px;top:469px;width:84px;height:22px">بيمه وصندو... <b>[+]</b></div>
<div class="s" style="left:977px;top:491px;width:84px;height:63px"></div>
<div class="c g" style="left:977px;top:491px;width:38px;height:36px"><span style="font-size:12px">دانا</span></div>
<div class="c g" style="left:1017px;top:491px;width:20px;height:36px"></div>
<div class="c g" style="left:1039px;top:491px;width:20px;height:36px"></div>
<div class="c g" style="left:977px;top:529px;width:36px;height:24px"></div>
<div class="c m" style="left:1015px;top:529px;width:16px;height:14px"></div>
<div class="c g" style="left:1033px;top:529px;width:10px;height:10px"></div>
<div class="c g" style="left:1045px;top:529px;width:14px;height:10px"></div>
<div class="c g" style="left:1015px;top:545px;width:16px;height:8px"></div>
<div class="c g" style="left:1033px;top:541px;width:8px;height:6px"></div>
<div class="c k" style="left:1043px;top:541px;width:8px;height:6px"></div>
<div class="c k" style="left:1053px;top:541px;width:6px;height:6px"></div>
<div class="c g" style="left:1033px;top:549px;width:26px;height:4px"></div>

<!-- S23 ماشین آ -->
<div class="h" style="left:787px;top:559px;width:67px;height:21px;padding-top:4px">ماشين آ... <b>[+]</b></div>
<div class="s" style="left:787px;top:580px;width:67px;height:72px"></div>
<div class="c g" style="left:787px;top:580px;width:33px;height:32px"><span style="font-size:13px">گل...</span></div>
<div class="c g" style="left:822px;top:580px;width:30px;height:32px"><span style="font-size:13px">تايرا</span></div>
<div class="c g" style="left:787px;top:614px;width:23px;height:37px"></div>
<div class="c d" style="left:812px;top:614px;width:16px;height:37px"></div>
<div class="c g" style="left:830px;top:614px;width:22px;height:13px"></div>
<div class="c g" style="left:830px;top:629px;width:10px;height:13px"></div>
<div class="c v" style="left:842px;top:629px;width:10px;height:13px"></div>
<div class="c g" style="left:830px;top:644px;width:10px;height:7px"></div>
<div class="c g" style="left:842px;top:644px;width:10px;height:7px"></div>

<!-- S24 تولید م -->
<div class="h" style="left:787px;top:654px;width:67px;height:22px">توليد م... <b>[+]</b></div>
<div class="s" style="left:787px;top:676px;width:67px;height:72px"></div>
<div class="c g" style="left:787px;top:676px;width:65px;height:56px"><span class="t">نيان</span><span class="p t">2.35%</span></div>
<div class="c x" style="left:787px;top:734px;width:65px;height:13px"></div>

<!-- S25 اطلاعا -->
<div class="h" style="left:856px;top:559px;width:64px;height:21px;padding-top:4px">اطلاعا... <b>[+]</b></div>
<div class="s" style="left:856px;top:580px;width:64px;height:54px"></div>
<div class="c d" style="left:856px;top:580px;width:50px;height:52px"><span class="t">هاي وب</span><span class="p t">0.3%</span></div>
<div class="c g" style="left:908px;top:580px;width:10px;height:25px"></div>
<div class="c g" style="left:908px;top:607px;width:10px;height:17px"></div>
<div class="c g" style="left:908px;top:626px;width:10px;height:6px"></div>

<!-- S26 استخرا -->
<div class="h" style="left:856px;top:636px;width:64px;height:21px;padding-top:4px">استخرا... <b>[+]</b></div>
<div class="s" style="left:856px;top:657px;width:64px;height:39px"></div>
<div class="c" style="left:856px;top:658px;width:52px;height:36px;background:#800303"><span class="t" style="font-size:4px;line-height:6px">كمرجان</span><span class="p t" style="font-size:5px;line-height:6px">-1.25%</span></div>
<div class="c g" style="left:910px;top:658px;width:8px;height:36px"></div>

<!-- S27 لاستیک -->
<div class="h" style="left:856px;top:697px;width:64px;height:22px">... لاستيك <b>[+]</b></div>
<div class="s" style="left:856px;top:719px;width:64px;height:29px"></div>
<div class="c m" style="left:856px;top:720px;width:37px;height:27px"></div>
<div class="c d" style="left:895px;top:720px;width:12px;height:15px"></div>
<div class="c g" style="left:909px;top:720px;width:9px;height:15px"></div>
<div class="c g" style="left:895px;top:737px;width:8px;height:10px"></div>
<div class="c g" style="left:905px;top:737px;width:6px;height:10px"></div>
<div class="c g" style="left:913px;top:737px;width:5px;height:10px"></div>

<!-- S28 هتل -->
<div class="h" style="left:923px;top:559px;width:67px;height:21px;padding-top:4px">هتل و ر... <b>[+]</b></div>
<div class="s" style="left:923px;top:580px;width:67px;height:24px"></div>
<div class="c k" style="left:923px;top:580px;width:41px;height:23px"></div>
<div class="c g" style="left:966px;top:580px;width:23px;height:17px"></div>
<div class="c g" style="left:966px;top:598px;width:23px;height:5px"></div>

<!-- S29 استخرا -->
<div class="h" style="left:992px;top:559px;width:69px;height:21px;padding-top:4px">استخرا... <b>[+]</b></div>
<div class="s" style="left:992px;top:580px;width:69px;height:24px"></div>
<div class="c g" style="left:992px;top:580px;width:68px;height:23px"><span class="t" style="font-size:4px;line-height:5px">حفاري</span><span class="p t" style="font-size:4px;line-height:5px">2.99%</span></div>

<!-- S30 عر -->
<div class="h" style="left:923px;top:606px;width:48px;height:23px">عر... <b>[+]</b></div>
<div class="s" style="left:923px;top:629px;width:48px;height:42px"></div>
<div class="c d" style="left:923px;top:629px;width:18px;height:22px"></div>
<div class="c x" style="left:943px;top:629px;width:15px;height:23px"></div>
<div class="c g" style="left:960px;top:629px;width:10px;height:22px"></div>
<div class="c m" style="left:923px;top:653px;width:18px;height:17px"></div>
<div class="c g" style="left:943px;top:654px;width:10px;height:9px"></div>
<div class="c g" style="left:955px;top:654px;width:6px;height:9px"></div>
<div class="c g" style="left:963px;top:654px;width:7px;height:9px"></div>
<div class="c r" style="left:943px;top:665px;width:10px;height:5px"></div>
<div class="c g" style="left:955px;top:665px;width:6px;height:5px"></div>
<div class="c g" style="left:963px;top:665px;width:7px;height:5px"></div>

<!-- S31 کا -->
<div class="h" style="left:973px;top:606px;width:45px;height:23px">كا... <b>[+]</b></div>
<div class="s" style="left:973px;top:629px;width:45px;height:42px"></div>
<div class="c m" style="left:973px;top:629px;width:25px;height:20px"></div>
<div class="c g" style="left:1000px;top:629px;width:17px;height:20px"></div>
<div class="c g" style="left:973px;top:651px;width:25px;height:19px"></div>
<div class="c g" style="left:1000px;top:651px;width:8px;height:19px"></div>
<div class="c g" style="left:1010px;top:651px;width:7px;height:19px"></div>

<!-- S32 ق -->
<div class="h" style="left:1019px;top:606px;width:42px;height:23px">ق... <b>[+]</b></div>
<div class="s" style="left:1019px;top:629px;width:42px;height:42px"></div>
<div class="c g" style="left:1019px;top:629px;width:24px;height:22px"></div>
<div class="c m" style="left:1045px;top:629px;width:15px;height:22px"></div>
<div class="c d" style="left:1019px;top:653px;width:12px;height:17px"></div>
<div class="c g" style="left:1033px;top:653px;width:8px;height:17px"></div>
<div class="c g" style="left:1043px;top:653px;width:8px;height:8px"></div>
<div class="c v" style="left:1053px;top:653px;width:7px;height:5px"></div>
<div class="c g" style="left:1043px;top:663px;width:17px;height:7px"></div>

<!-- S33 ماشین -->
<div class="h" style="left:923px;top:673px;width:59px;height:23px">ماشين... <b>[+]</b></div>
<div class="s" style="left:923px;top:696px;width:59px;height:19px"></div>
<div class="c m" style="left:923px;top:697px;width:20px;height:17px"></div>
<div class="c g" style="left:945px;top:697px;width:11px;height:17px"></div>
<div class="c g" style="left:958px;top:697px;width:7px;height:17px"></div>
<div class="c d" style="left:967px;top:697px;width:7px;height:8px"></div>
<div class="c g" style="left:976px;top:697px;width:5px;height:8px"></div>
<div class="c v" style="left:967px;top:707px;width:4px;height:7px"></div>
<div class="c g" style="left:973px;top:707px;width:8px;height:7px"></div>

<!-- S34 منسو -->
<div class="h" style="left:923px;top:716px;width:59px;height:22px">منسو... <b>[+]</b></div>
<div class="s" style="left:923px;top:738px;width:59px;height:10px"></div>
<div class="c v" style="left:923px;top:739px;width:32px;height:8px"></div>
<div class="c g" style="left:957px;top:739px;width:10px;height:8px"></div>
<div class="c d" style="left:969px;top:739px;width:12px;height:8px"></div>

<!-- S35 د -->
<div class="h" style="left:983px;top:673px;width:40px;height:24px">د... <b>[+]</b></div>
<div class="s" style="left:983px;top:697px;width:40px;height:16px"></div>
<div class="c g" style="left:983px;top:697px;width:39px;height:14px"></div>

<!-- S36 -->
<div class="h" style="left:983px;top:715px;width:40px;height:23px">... <b>[+]</b></div>
<div class="s" style="left:983px;top:738px;width:40px;height:10px"></div>
<div class="c g" style="left:983px;top:738px;width:39px;height:9px"></div>

<!-- S37 -->
<div class="h" style="left:1025px;top:673px;width:36px;height:24px">... <b>[+]</b></div>
<div class="s" style="left:1025px;top:697px;width:36px;height:51px;background:#fff"></div>
<div class="c g" style="left:1025px;top:697px;width:35px;height:2px"></div>
<div class="c" style="left:1025px;top:699px;width:35px;height:22px;background:#fff;border-bottom:1px solid #ddd"></div>
<div class="c r" style="left:1025px;top:723px;width:35px;height:2px"></div>
<div class="c" style="left:1025px;top:727px;width:14px;height:20px;background:#fff;border:1px solid #ddd;box-sizing:border-box"></div>
<div class="c" style="left:1041px;top:727px;width:19px;height:8px;background:#fff;border:1px solid #ddd;box-sizing:border-box"></div>
<div class="c" style="left:1041px;top:737px;width:19px;height:10px;background:#fff;border:1px solid #ddd;box-sizing:border-box"></div>

</body></html>
